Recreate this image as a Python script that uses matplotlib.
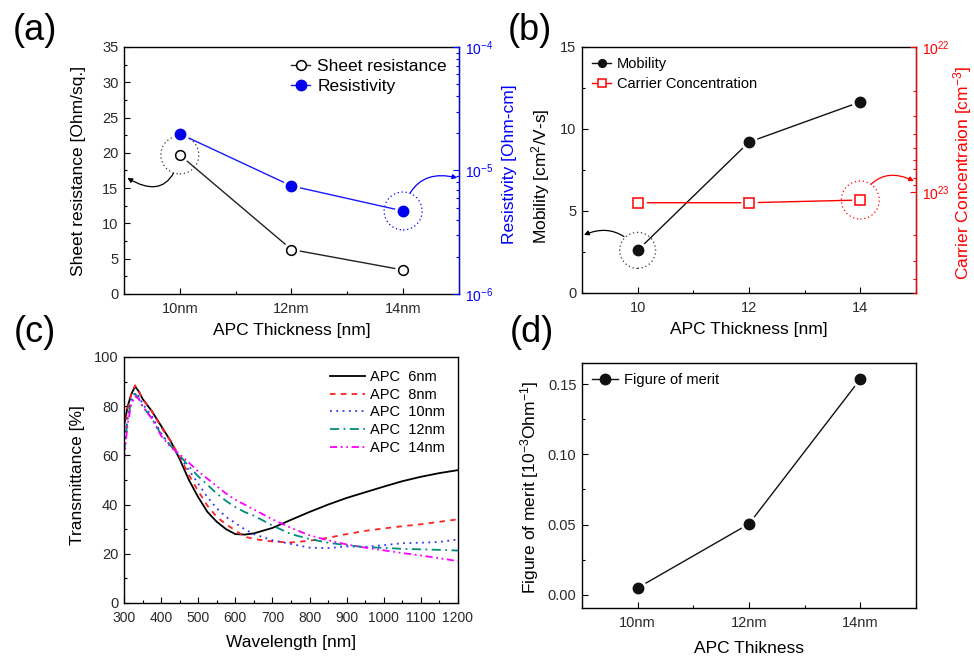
import matplotlib
matplotlib.use('Agg')
import matplotlib.pyplot as plt
from matplotlib.patches import Circle
from matplotlib.transforms import ScaledTranslation
from matplotlib.ticker import MultipleLocator, FixedLocator, FixedFormatter, FormatStrFormatter

plt.rcParams['font.family'] = ['Liberation Sans', 'DejaVu Sans']
plt.rcParams['mathtext.fontset'] = 'custom'
plt.rcParams['mathtext.rm'] = 'Liberation Sans'
plt.rcParams['mathtext.it'] = 'Liberation Sans:italic'
plt.rcParams['mathtext.default'] = 'regular'

# data
thickness = [10, 12, 14]
thickness_labels = ['10nm', '12nm', '14nm']
sheet_res = [19.7, 6.3, 3.4]               # Ohm/sq
resistivity = [1.98e-5, 7.5e-6, 4.7e-6]    # Ohm-cm
mobility = [2.6, 9.2, 11.65]               # cm2/V-s
carrier = [1.19e23, 1.19e23, 1.14e23]      # cm-3
fom = [0.005, 0.0505, 0.1535]              # 1e-3 / Ohm

wavelength = [300, 310, 320, 330, 340, 350, 375, 400, 425, 450, 475, 500, 525, 550, 575,
              600, 625, 650, 700, 750, 800, 850, 900, 950, 1000, 1050, 1100, 1150, 1200]
t_6nm = [72, 80, 85, 88, 86, 83, 78, 72, 66, 58.5, 50, 43, 37, 33, 30,
         28, 27.8, 28.3, 30.5, 33.8, 37, 40, 42.7, 45, 47.3, 49.5, 51.3, 52.8, 54]
t_8nm = [70, 79, 85, 88.5, 86, 83, 78, 71.5, 66, 59.5, 52, 45.5, 39.5, 35, 32,
         29.5, 27, 26, 25, 24.6, 25.3, 26.5, 28, 29.3, 30.3, 31.2, 32, 33, 34]
t_10nm = [62, 76, 83, 85.5, 84, 81, 76, 69, 64, 59.5, 54, 48.5, 43, 38.5, 35,
          32.5, 30, 28, 25.5, 24, 22.5, 22.3, 23, 22.8, 23.5, 24.3, 24.5, 24.8, 25.8]
t_12nm = [61, 75, 82, 85, 83, 80, 75, 68.5, 64, 60, 55.5, 51.5, 48, 44.5, 41.5,
          39, 37, 35.5, 31.5, 28, 26, 24.5, 23.5, 22.7, 22.4, 22, 21.8, 21.6, 21.3]
t_14nm = [58, 73, 81, 84, 83, 80, 75, 68, 63.5, 60.5, 57, 53.5, 50.5, 47.5, 44.5,
          42, 40, 38, 34, 30.5, 27.5, 25.5, 23.8, 22.5, 21.4, 20.3, 19.3, 18.2, 17]

TICK_C = '#2a2a2a'
fig = plt.figure(figsize=(9.74, 6.59), dpi=100)


def style(ax, xminor, yminor):
    ax.tick_params(which='both', direction='in', top=False, right=False,
                   labelsize=10.5, labelcolor=TICK_C, width=0.8)
    ax.tick_params(which='major', length=4)
    ax.tick_params(which='minor', length=2.2)
    ax.tick_params(axis='x', pad=5.5)
    ax.tick_params(axis='y', pad=4)
    ax.xaxis.set_minor_locator(MultipleLocator(xminor))
    ax.yaxis.set_minor_locator(MultipleLocator(yminor))
    for s in ax.spines.values():
        s.set_linewidth(1.0)


def style_log(ax, color):
    ax.tick_params(which='both', direction='in', colors=color, labelsize=10, width=0.8, pad=4)
    ax.tick_params(which='major', length=4)
    ax.tick_params(which='minor', length=2.2)
    for side in ('left', 'top', 'bottom'):
        ax.spines[side].set_visible(False)
    ax.spines['right'].set_color(color)


def set_labels(ax, xlabel, xy_x, ylabel, xy_y, size=12.5):
    ax.set_xlabel(xlabel, fontsize=size)
    ax.xaxis.set_label_coords(*xy_x)
    ax.xaxis.label.set_va('center')
    ax.set_ylabel(ylabel, fontsize=size)
    ax.yaxis.set_label_coords(*xy_y)
    ax.yaxis.label.set_va('center')


def haloed(ax, x, y, **kw):
    ms = kw.get('markersize', 7)
    line, = ax.plot(x, y, zorder=2, **kw)
    ax.plot(x, y, linestyle='none', marker='o', markersize=ms + 4,
            color='white', zorder=3)
    kw2 = dict(kw)
    kw2['linestyle'] = 'none'
    ax.plot(x, y, zorder=4, **kw2)
    return line


def ring(ax, x, y, color, r_in=0.19):
    fx, fy = (ax.transData + ax.transAxes.inverted()).transform((x, y))
    c = Circle((0, 0), r_in, fill=False, edgecolor=color, lw=0.9,
               linestyle=(0, (1, 2.2)), clip_on=False,
               transform=fig.dpi_scale_trans + ScaledTranslation(fx, fy, ax.transAxes))
    ax.add_artist(c)


def curved_arrow(ax, x, y, end, rad, color):
    ax.annotate('', xy=end, xycoords='axes fraction', xytext=(x, y), textcoords='data',
                arrowprops=dict(arrowstyle='-|>', color=color, lw=0.9, shrinkA=14, shrinkB=0,
                                mutation_scale=7, connectionstyle=f'arc3,rad={rad}'))


# (a) sheet resistance / resistivity
axa = fig.add_axes([0.1273, 0.5539, 0.3439, 0.3748])
style(axa, 1, 2.5)
h1 = haloed(axa, thickness, sheet_res, color='#222222', lw=1.0, marker='o', markersize=7,
            markerfacecolor='white', markeredgecolor='black', markeredgewidth=1.1)
axa.set_xlim(9, 15)
axa.set_ylim(0, 35)
axa.xaxis.set_major_locator(FixedLocator(thickness))
axa.xaxis.set_major_formatter(FixedFormatter(thickness_labels))
set_labels(axa, 'APC Thickness [nm]', (0.5, -0.147), 'Sheet resistance [Ohm/sq.]', (-0.135, 0.5))

axa2 = axa.twinx()
h2 = haloed(axa2, thickness, resistivity, color='#1a1aff', lw=1.0, marker='o', markersize=7.5,
            markerfacecolor='#0000ee', markeredgecolor='#0000ee')
axa2.set_yscale('log')
axa2.set_ylim(1e-6, 1e-4)
style_log(axa2, '#0000ff')
axa2.set_ylabel('Resistivity [Ohm-cm]', color='#0000ff', fontsize=12.5)
axa2.yaxis.set_label_coords(1.152, 0.526)
axa2.yaxis.label.set_va('center')
axa.legend([h1, h2], ['Sheet resistance', 'Resistivity'], loc='upper right',
           bbox_to_anchor=(1.0, 1.0), frameon=False, fontsize=12.5, handlelength=1.1,
           handletextpad=0.4, labelspacing=0.25, borderaxespad=0.3)
ring(axa, thickness[0], sheet_res[0], '#333333')
curved_arrow(axa, thickness[0], sheet_res[0], (0.01, 0.47), -0.7, 'black')
ring(axa2, thickness[2], resistivity[2], '#0000ff')
curved_arrow(axa2, thickness[2], resistivity[2], (0.995, 0.47), -0.5, '#0000ff')

# (b) mobility / carrier concentration
axb = fig.add_axes([0.5975, 0.5554, 0.3429, 0.3733])
style(axb, 1, 2.5)
hm = haloed(axb, thickness, mobility, color='#111111', lw=1.0, marker='o', markersize=7.5,
            markerfacecolor='#111111', markeredgecolor='#111111')
axb.set_xlim(9, 15)
axb.set_ylim(0, 15)
axb.xaxis.set_major_locator(FixedLocator(thickness))
axb.yaxis.set_major_locator(MultipleLocator(5))
set_labels(axb, 'APC Thickness [nm]', (0.5, -0.15), r'Mobility [cm$^2$/V-s]', (-0.125, 0.476))

axb2 = axb.twinx()
hc = haloed(axb2, thickness, carrier, color='#ff0000', lw=1.0, marker='s', markersize=7,
            markerfacecolor='white', markeredgecolor='#ff0000', markeredgewidth=1.1)
axb2.set_yscale('log')
axb2.set_ylim(5e23, 1e22)
style_log(axb2, '#ff0000')
axb2.set_ylabel(r'Carrier Concentraion [cm$^{-3}$]', color='#ff0000', fontsize=12.5)
axb2.yaxis.set_label_coords(1.141, 0.488)
axb2.yaxis.label.set_va('center')
axb.legend([hm, hc], ['Mobility', 'Carrier Concentration'], loc='upper left',
           frameon=False, fontsize=10.5, handlelength=1.3, handletextpad=0.4,
           labelspacing=0.4, borderaxespad=0.3, markerscale=0.75)
ring(axb, thickness[0], mobility[0], '#333333', r_in=0.18)
curved_arrow(axb, thickness[0], mobility[0], (0.006, 0.236), 0.4, 'black')
ring(axb2, thickness[2], carrier[2], '#ff0000')
curved_arrow(axb2, thickness[2], carrier[2], (0.994, 0.455), -0.5, '#ff0000')

# (c) transmittance spectra
axc = fig.add_axes([0.1273, 0.0850, 0.3429, 0.3733])
style(axc, 50, 10)
axc.plot(wavelength, t_6nm, color='black', lw=1.3, ls='-', label='APC  6nm')
axc.plot(wavelength, t_8nm, color='#ff2020', lw=1.3, ls=(0, (3, 3)), label='APC  8nm')
axc.plot(wavelength, t_10nm, color='#3030ff', lw=1.3, ls=(0, (1, 2.5)), label='APC  10nm')
axc.plot(wavelength, t_12nm, color='#008b7a', lw=1.3, ls=(0, (5, 2.5, 1, 2.5)), label='APC  12nm')
axc.plot(wavelength, t_14nm, color='#ff00ff', lw=1.3, ls=(0, (4, 2, 1, 2, 1, 2)), label='APC  14nm')
axc.set_xlim(300, 1200)
axc.set_ylim(0, 100)
axc.xaxis.set_major_locator(MultipleLocator(100))
axc.yaxis.set_major_locator(MultipleLocator(20))
axc.tick_params(axis='x', labelsize=10)
set_labels(axc, 'Wavelength [nm]', (0.5, -0.16), 'Transmittance [%]', (-0.138, 0.52))
axc.legend(loc='upper right', frameon=False, fontsize=10.5, handlelength=2.4,
           handletextpad=0.3, labelspacing=0.25, borderaxespad=0.5)

# (d) figure of merit
axd = fig.add_axes([0.5975, 0.0774, 0.3429, 0.3718])
style(axd, 1, 0.025)
hf = haloed(axd, thickness, fom, color='#111111', lw=1.0, marker='o', markersize=7.5,
            markerfacecolor='#111111', markeredgecolor='#111111', label='Figure of merit')
axd.set_xlim(9, 15)
axd.set_ylim(-0.0093, 0.165)
axd.xaxis.set_major_locator(FixedLocator(thickness))
axd.xaxis.set_major_formatter(FixedFormatter(thickness_labels))
axd.yaxis.set_major_locator(MultipleLocator(0.05))
axd.yaxis.set_major_formatter(FormatStrFormatter('%.2f'))
set_labels(axd, 'APC Thikness', (0.5, -0.165), r'Figure of merit [10$^{-3}$Ohm$^{-1}$]', (-0.158, 0.494))
axd.legend([hf], ['Figure of merit'], loc='upper left', frameon=False, fontsize=10.5,
           handlelength=1.8, handletextpad=0.4, borderaxespad=0.3)

for txt, x, y in [('(a)', 35, 31), ('(b)', 530, 31), ('(c)', 35, 333), ('(d)', 532, 333)]:
    fig.text(x / 974, 1 - y / 659, txt, fontsize=26, ha='center', va='center')

fig.savefig('out.png', dpi=100)
